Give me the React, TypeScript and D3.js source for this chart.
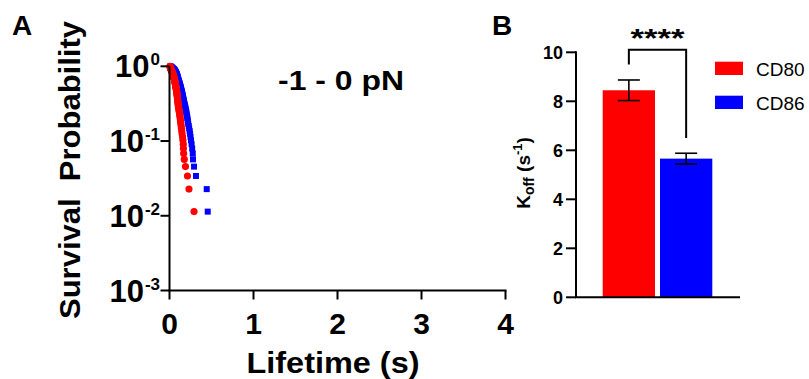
import React from 'react';
import * as d3 from 'd3';

// Bond lifetimes (s), sorted ascending, for each ligand at -1 - 0 pN
const lifetimesCD80: number[] = [
  0.005, 0.007, 0.008, 0.010, 0.011, 0.013, 0.015, 0.016, 0.018,
  0.020, 0.022, 0.024, 0.026, 0.029, 0.031, 0.033, 0.035, 0.037, 0.039,
  0.041, 0.043, 0.044, 0.046, 0.048, 0.050, 0.052, 0.053, 0.055, 0.057,
  0.058, 0.060, 0.061, 0.063, 0.064, 0.065, 0.067, 0.068, 0.070, 0.071,
  0.073, 0.074, 0.076, 0.077, 0.079, 0.080, 0.082, 0.083, 0.085, 0.086,
  0.087, 0.089, 0.090, 0.091, 0.093, 0.094, 0.095, 0.096, 0.098, 0.099,
  0.101, 0.102, 0.104, 0.105, 0.107,
  0.110, 0.113, 0.115, 0.118, 0.121,
  0.124, 0.127, 0.129, 0.132, 0.135,
  0.139, 0.142, 0.146, 0.150, 0.155, 0.160, 0.164, 0.166, 0.168, 0.176, 0.190, 0.214, 0.232, 0.292,
];

const lifetimesCD86: number[] = [
  0.012, 0.017, 0.022, 0.028, 0.033, 0.038, 0.043, 0.049, 0.054,
  0.057, 0.060, 0.063, 0.066, 0.069, 0.071, 0.074, 0.077, 0.080, 0.083,
  0.085, 0.087, 0.088, 0.090, 0.092, 0.094, 0.096, 0.097, 0.099, 0.101,
  0.103, 0.105, 0.108, 0.110, 0.112, 0.114, 0.116, 0.119, 0.121, 0.123,
  0.125, 0.128, 0.130, 0.132, 0.135, 0.137, 0.139, 0.141, 0.144, 0.146,
  0.148, 0.151, 0.153, 0.156, 0.158, 0.160, 0.163, 0.165, 0.168, 0.170,
  0.173, 0.177, 0.180, 0.184, 0.187,
  0.191, 0.194, 0.198, 0.201, 0.205,
  0.209, 0.212, 0.216, 0.219, 0.223,
  0.229, 0.234, 0.240, 0.245, 0.250, 0.256, 0.263, 0.270, 0.277, 0.280, 0.292, 0.315, 0.443, 0.455,
];

const timeTicks = [0, 1, 2, 3, 4];
const probExponents = [0, -1, -2, -3];

// Off-rates (mean ± SEM)
const ligands = ['CD80', 'CD86'];
const koffMeans = [8.45, 5.66];
const koffErrors = [0.42, 0.22];
const koffTicks = [0, 2, 4, 6, 8, 10];
const significance = '****';
const forceLabel = '-1 - 0 pN';

const RED = '#ff0000';
const BLUE = '#0000ff';
const FONT = "'Liberation Sans', Arial, Helvetica, sans-serif";

// Empirical survival: fraction of bonds still intact at each recorded lifetime
function survival(lifetimes: number[]) {
  const n = lifetimes.length;
  return lifetimes.map((t, i) => ({ t, p: (n - i) / n }));
}

export default function App() {
  // Panel A scales
  const xA = d3.scaleLinear().domain([0, 4]).range([169.5, 505.5]);
  const yA = d3.scaleLog().domain([1e-3, 1]).range([290.5, 66.3]);

  // Panel B scales
  const xB = d3.scaleBand<string>().domain(ligands).range([602.7, 712.3]).paddingInner(0.087).paddingOuter(0);
  const yB = d3.scaleLinear().domain([0, 10]).range([297.3, 52.3]);

  const cd80 = survival(lifetimesCD80);
  const cd86 = survival(lifetimesCD86);
  const colors = [RED, BLUE];

  const circle = d3.symbol().type(d3.symbolCircle).size(40)();
  const square = d3.symbol().type(d3.symbolSquare).size(36)();

  // significance bracket (in K_off units)
  const bracketTop = 10.1;
  const bracketLeft = 9.5;
  const bracketRight = 6.5;
  const cx0 = (xB(ligands[0]) ?? 0) + xB.bandwidth() / 2;
  const cx1 = (xB(ligands[1]) ?? 0) + xB.bandwidth() / 2;

  return (
    <svg width={809} height={379} style={{ position: 'absolute', left: 0, top: 0, background: '#fff' }} fontFamily={FONT}>
      <rect width={809} height={379} fill="#fff" />
      {/* Panel letters */}
      <text x={12} y={35} fontSize={28} fontWeight="bold">A</text>
      <text x={492} y={35} fontSize={28} fontWeight="bold">B</text>

      {/* ---------- Panel A ---------- */}
      <g>
        {cd86.map((d, i) => (
          <path key={'b' + i} d={square} transform={`translate(${xA(d.t)},${yA(d.p)})`} fill={BLUE} />
        ))}
        {cd80.map((d, i) => (
          <path key={'r' + i} d={circle} transform={`translate(${xA(d.t)},${yA(d.p)})`} fill={RED} />
        ))}

        {/* axes */}
        <line x1={xA(0)} x2={xA(0)} y1={yA(1)} y2={yA(1e-3)} stroke="#000" strokeWidth={2} />
        <line x1={xA(0) - 1} x2={xA(4) + 1} y1={yA(1e-3)} y2={yA(1e-3)} stroke="#000" strokeWidth={2} />
        {timeTicks.map((t) => (
          <g key={'xt' + t}>
            <line x1={xA(t)} x2={xA(t)} y1={yA(1e-3)} y2={yA(1e-3) + 9} stroke="#000" strokeWidth={2} />
            <text x={xA(t)} y={334} textAnchor="middle" fontSize={30} fontWeight="bold">{t}</text>
          </g>
        ))}
        {probExponents.map((e) => {
          const y = yA(Math.pow(10, e));
          return (
            <g key={'yt' + e}>
              <line x1={xA(0) - 9} x2={xA(0)} y1={y} y2={y} stroke="#000" strokeWidth={2} />
              <text x={160} y={y + 11} textAnchor="end" fontWeight="bold">
                <tspan fontSize={31}>10</tspan>
                <tspan fontSize={17} dx={1} dy={-12}>{e}</tspan>
              </text>
            </g>
          );
        })}
        <text
          transform="translate(80,170) rotate(-90)"
          textAnchor="middle"
          fontSize={30}
          fontWeight="bold"
          textLength={298}
          lengthAdjust="spacingAndGlyphs"
          style={{ whiteSpace: 'pre' }}
        >
          Survival  Probability
        </text>
        <text x={333} y={373} textAnchor="middle" fontSize={30} fontWeight="bold" textLength={173} lengthAdjust="spacingAndGlyphs">
          Lifetime (s)
        </text>
        <text x={341} y={90} textAnchor="middle" fontSize={27} fontWeight="bold" textLength={126} lengthAdjust="spacingAndGlyphs" style={{ whiteSpace: 'pre' }}>
          {forceLabel}
        </text>
      </g>

      {/* ---------- Panel B ---------- */}
      <g>
        {ligands.map((g, i) => (
          <rect key={g} x={xB(g)} y={yB(koffMeans[i])} width={xB.bandwidth()} height={yB(0) - yB(koffMeans[i])} fill={colors[i]} />
        ))}
        {ligands.map((g, i) => {
          const cx = (xB(g) ?? 0) + xB.bandwidth() / 2;
          const hi = yB(koffMeans[i] + koffErrors[i]);
          const lo = yB(koffMeans[i] - koffErrors[i]);
          return (
            <g key={'e' + g} stroke="#000" strokeWidth={1.6}>
              <line x1={cx} x2={cx} y1={hi} y2={lo} />
              <line x1={cx - 11} x2={cx + 11} y1={hi} y2={hi} />
              <line x1={cx - 11} x2={cx + 11} y1={lo} y2={lo} />
            </g>
          );
        })}

        {/* axes */}
        <line x1={576} x2={576} y1={yB(10) - 1} y2={yB(0)} stroke="#000" strokeWidth={2} />
        <line x1={575} x2={740} y1={yB(0)} y2={yB(0)} stroke="#000" strokeWidth={2} />
        {koffTicks.map((v) => (
          <g key={'kt' + v}>
            <line x1={566} x2={576} y1={yB(v)} y2={yB(v)} stroke="#000" strokeWidth={2} />
            <text x={563} y={yB(v) + 6.5} textAnchor="end" fontSize={18} fontWeight="bold">{v}</text>
          </g>
        ))}
        <text transform="translate(530,173) rotate(-90)" textAnchor="middle" fontSize={19} fontWeight="bold">
          <tspan>K</tspan>
          <tspan fontSize={14} dy={4}>off</tspan>
          <tspan dy={-4}> (s</tspan>
          <tspan fontSize={13} dy={-8}>-1</tspan>
          <tspan dy={8}>)</tspan>
        </text>

        {/* significance bracket */}
        <path
          d={`M${cx0},${yB(bracketLeft)}V${yB(bracketTop)}H${cx1}V${yB(bracketRight)}`}
          fill="none"
          stroke="#000"
          strokeWidth={2}
        />
        <text x={(cx0 + cx1) / 2} y={47} textAnchor="middle" fontSize={26} fontWeight="bold" textLength={54} lengthAdjust="spacingAndGlyphs">
          {significance}
        </text>

        {/* legend */}
        {ligands.map((g, i) => (
          <g key={'lg' + g}>
            <rect x={715} y={61.7 + i * 34} width={28} height={13.3} fill={colors[i]} />
            <text x={756} y={75.5 + i * 34} fontSize={19}>{g}</text>
          </g>
        ))}
      </g>
    </svg>
  );
}
